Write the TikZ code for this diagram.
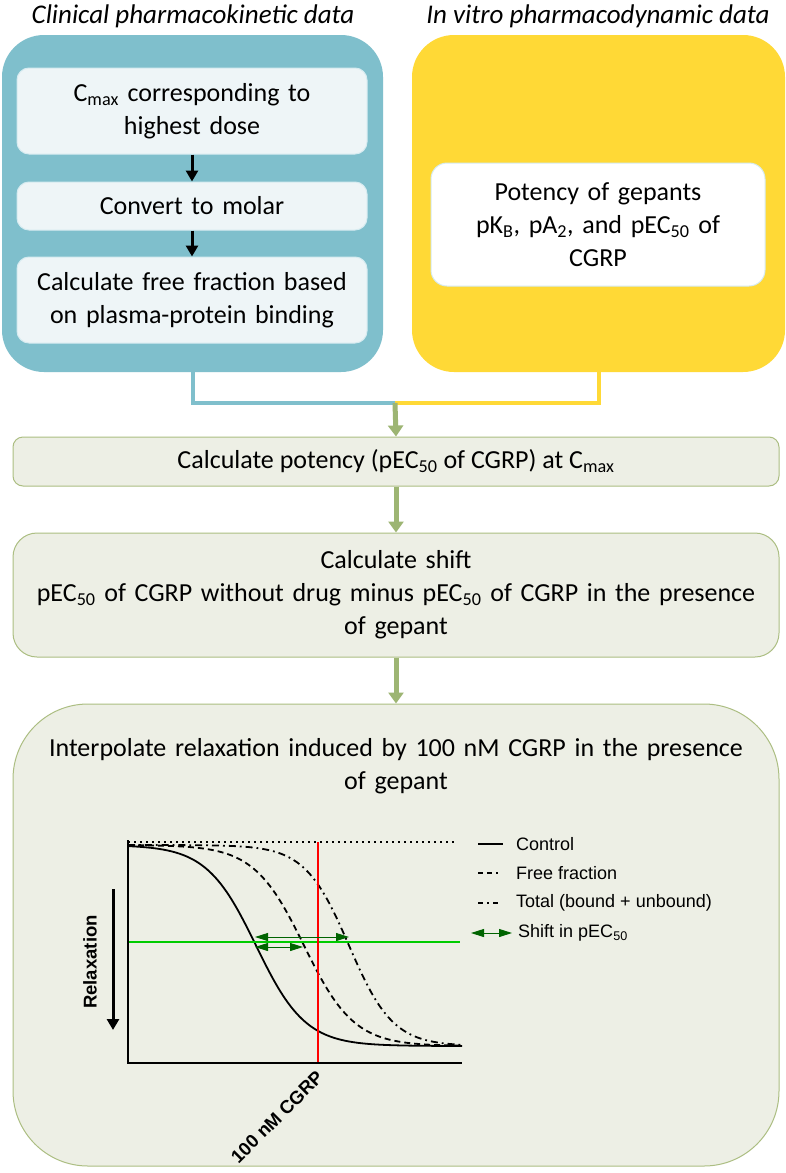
\documentclass[tikz,border=0pt]{standalone}
\usepackage{fontspec}
\setmainfont{Carlito}
\newfontfamily\arialf{Liberation Sans}
\usetikzlibrary{arrows.meta}
\definecolor{pkblue}{RGB}{127,191,204}
\definecolor{pkin}{RGB}{238,245,247}
\definecolor{pkinb}{RGB}{214,235,240}
\definecolor{pdyel}{RGB}{255,217,54}
\definecolor{gbox}{RGB}{237,239,229}
\definecolor{gborder}{RGB}{172,190,130}
\definecolor{garrow}{RGB}{157,181,115}
\definecolor{dkgreen}{RGB}{0,100,0}
\definecolor{brgreen}{RGB}{0,204,0}
\tikzset{
  bigtxt/.style={font=\fontsize{26}{33}\selectfont, align=center},
  titletxt/.style={font=\fontsize{27}{30}\selectfont\itshape},
  innerbox/.style={draw=pkinb, line width=1pt, fill=pkin, rounded corners=12pt, bigtxt, inner sep=0pt},
  greenbox/.style={draw=gborder, line width=1pt, fill=gbox, bigtxt, inner sep=0pt},
  garr/.style={draw=garrow, line width=5pt, -{Triangle[width=15pt,length=11pt]}},
  karr/.style={draw=black, line width=3pt, -{Triangle[width=12pt,length=11pt]}},
  shiftarr/.style={draw=dkgreen, line width=1pt, {Triangle[width=8pt,length=13pt]}-{Triangle[width=8pt,length=13pt]}},
  curve/.style={line width=1.8pt, black},
  legtxt/.style={font=\arialf\fontsize{18}{21}\selectfont, anchor=west, inner sep=0pt},
  axtxt/.style={font=\arialf\bfseries\fontsize{18.5}{21}\selectfont, inner sep=0pt},
}
\begin{document}
\begin{tikzpicture}[x=1pt,y=-1pt]
\fill[white] (0,0) rectangle (786,1173);
\useasboundingbox (0,0) rectangle (786,1173);

% titles
\node[titletxt] (t1) at (193,16) {Clinical pharmacokinetic data};
\node[titletxt] (t2) at (598,16) {In vitro pharmacodynamic data};

% big coloured panels
\node[fill=pkblue, rounded corners=42pt, minimum width=381pt, minimum height=337pt, inner sep=0pt] (pk) at (192.5,203.5) {};
\node[fill=pdyel, rounded corners=42pt, minimum width=373pt, minimum height=337pt, inner sep=0pt] (pd) at (598.5,203.5) {};

% inner boxes PK
\node[innerbox, minimum width=350pt, minimum height=86pt, text width=345pt] (b1) at (192,111) {C\textsubscript{max} corresponding to\\highest dose};
\node[innerbox, minimum width=350pt, minimum height=48pt, text width=345pt] (b2) at (192,206) {Convert to molar};
\node[innerbox, minimum width=350pt, minimum height=86pt, text width=345pt] (b3) at (192,300) {Calculate free fraction based\\on plasma-protein binding};
\draw[karr] (b1.south) -- (b2.north);
\draw[karr] (b2.south) -- (b3.north);

% inner box PD
\node[draw=pkinb, line width=1pt, fill=white, rounded corners=16pt, bigtxt, inner sep=0pt, minimum width=334pt, minimum height=123pt, text width=325pt] (b4) at (598,224.5) {Potency of gepants\\pK\textsubscript{B}, pA\textsubscript{2}, and pEC\textsubscript{50} of\\CGRP};

% connectors
\coordinate (j) at (395,403);
\draw[pkblue, line width=4pt] (pk.south) |- (j);
\draw[pdyel, line width=4pt] (pd.south) |- (j);

% green boxes
\node[greenbox, rounded corners=10pt, minimum width=766pt, minimum height=49pt] (c1) at (396,461.5) {Calculate potency (pEC\textsubscript{50} of CGRP) at C\textsubscript{max}};
\node[greenbox, rounded corners=24pt, minimum width=766pt, minimum height=124pt, text width=755pt] (c2) at (396,595) {Calculate shift\\pEC\textsubscript{50} of CGRP without drug minus pEC\textsubscript{50} of CGRP in the presence\\of gepant};
\node[greenbox, rounded corners=75pt, minimum width=766pt, minimum height=462pt] (c3) at (396,935) {};
\node[bigtxt, text width=755pt, inner sep=0pt] (c3t) at (396,766) {Interpolate relaxation induced by 100 nM CGRP in the presence\\of gepant};

\draw[garr] (j) -- (c1.north);
\draw[garr] (c1.south) -- (c2.north);
\draw[garr] (c2.south) -- (c3.north);

% plot
\draw[black, line width=1.2pt, dash pattern=on 1.5pt off 4.5pt] (128,842) -- (455,842);
\draw[curve] plot[domain=128:462, samples=120, smooth] (\x, {845+201/(1+exp(min(9,-(\x-256)/24.7)))});
\draw[curve, dash pattern=on 6pt off 4pt] plot[domain=128:462, samples=120, smooth] (\x, {845+201/(1+exp(min(9,-(\x-304)/25)))});
\draw[curve, dash pattern=on 7pt off 4pt on 1.8pt off 4pt] plot[domain=128:462, samples=120, smooth] (\x, {845+201/(1+exp(min(9,-(\x-349)/22)))});
\draw[brgreen, line width=1.6pt] (128,942) -- (460,942);
\draw[red, line width=1.6pt] (318,842) -- (318,1063);
\draw[black, line width=2pt] (128,840) -- (128,1063) -- (462,1063);
\coordinate (s1a) at (255,937); \coordinate (s1b) at (349,937);
\coordinate (s2a) at (255,947); \coordinate (s2b) at (303,947);
\draw[shiftarr] (s1a) -- (s1b);
\draw[shiftarr] (s2a) -- (s2b);

% relaxation axis label
\coordinate (ra) at (113,889); \coordinate (rb) at (113,1030);
\draw[karr] (ra) -- (rb);
\node[axtxt, rotate=90] (rel) at (90,962) {Relaxation};
\node[axtxt, rotate=45, anchor=east] (cg) at (320,1074) {100 nM CGRP};

% legend
\draw[line width=1.8pt] (478,844) -- (503,844);
\node[legtxt] (l1) at (516,844) {Control};
\draw[line width=1.8pt, dash pattern=on 5pt off 4pt on 5pt off 4pt on 2pt off 20pt] (478,873) -- (503,873);
\node[legtxt] (l2) at (516,873) {Free fraction};
\draw[line width=1.8pt, dash pattern=on 5pt off 4pt on 2pt off 4pt on 5pt off 20pt] (478,903) -- (504,903);
\node[legtxt] (l3) at (516,903) {Total (bound + unbound)};
\coordinate (la) at (471,933); \coordinate (lb) at (512,933);
\draw[shiftarr] (la) -- (lb);
\node[legtxt] (l4) at (518,933) {Shift in pEC\textsubscript{50}};
\end{tikzpicture}
\end{document}
